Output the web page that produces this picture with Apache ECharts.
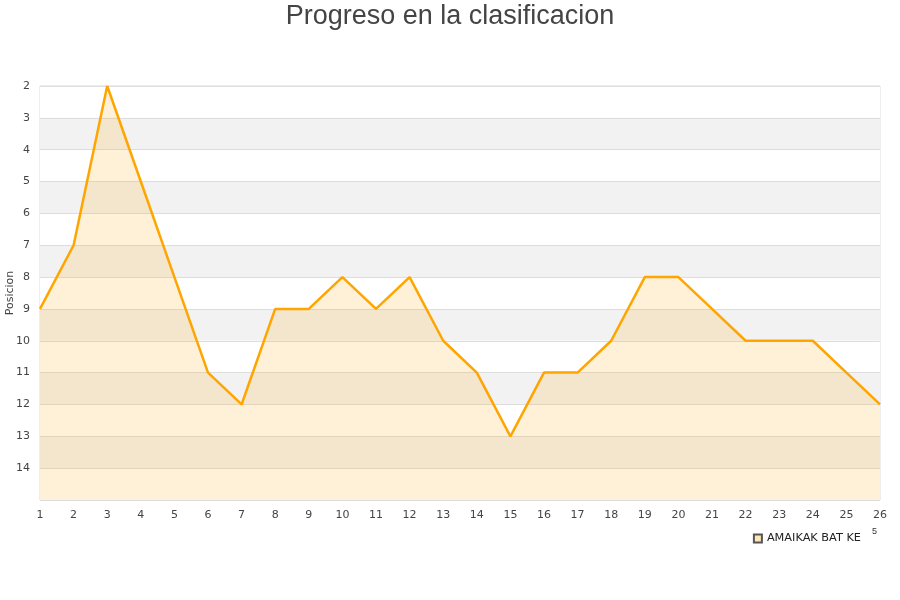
<!DOCTYPE html>
<html><head><meta charset="utf-8">
<script src="https://cdn.jsdelivr.net/npm/echarts@6/dist/echarts.min.js"></script>
<style>html,body{margin:0;padding:0;background:#fff}#c{width:900px;height:600px}</style>
</head><body><div id="c"></div>
<script>
const jornadas = ['1','2','3','4','5','6','7','8','9','10','11','12','13','14','15','16','17','18','19','20','21','22','23','24','25','26'];
const posiciones = [9,7,2,5,8,11,12,9,9,8,9,8,10,11,13,11,11,10,8,8,9,10,10,10,11,12];
const seriesName = 'AMAIKAK BAT KE';
const titleText = 'Progreso en la clasificacion';
const yName = 'Posicion';

const chart = echarts.init(document.getElementById('c'), null, {renderer:'canvas'});
chart.setOption({
  animation:false,
  textStyle:{fontFamily:'"Liberation Sans", Arial, sans-serif'},
  title:{text:titleText,left:'center',top:-2,textStyle:{fontSize:27,fontWeight:'normal',color:'#444',fontFamily:'"Liberation Sans", Arial, sans-serif'}},
  legend:{data:[{name:seriesName,icon:'rect'}],right:34,top:528,itemWidth:8,itemHeight:8,itemGap:10,
    textStyle:{fontSize:11.3,color:'#222',fontFamily:'"DejaVu Sans", sans-serif'}},
  grid:{left:40,right:20,top:86,bottom:100,containLabel:false,outerBoundsMode:'none',show:true,borderColor:'#ddd',borderWidth:1,backgroundColor:'transparent'},
  xAxis:{type:'category',data:jornadas,boundaryGap:false,
    axisLine:{show:false},axisTick:{show:false},
    axisLabel:{color:'#444',fontSize:11,margin:10,fontFamily:'"DejaVu Sans", sans-serif'},
    splitLine:{show:false}},
  yAxis:{type:'value',inverse:true,min:2,max:15,interval:1,
    name:yName,nameLocation:'middle',nameGap:24,nameRotate:90,nameMoveOverlap:false,
    nameTextStyle:{color:'#444',fontSize:11,fontFamily:'"DejaVu Sans", sans-serif'},
    axisLine:{show:false},axisTick:{show:false},
    axisLabel:{color:'#444',fontSize:11,margin:10,fontFamily:'"DejaVu Sans", sans-serif',
      formatter:function(v){return v===15?'':String(v);}},
    splitLine:{show:true,lineStyle:{color:'#ddd',width:1}},
    splitArea:{show:true,areaStyle:{color:['#ffffff','#f2f2f2']}}},
  series:[{name:seriesName,type:'line',data:posiciones,symbol:'none',
    itemStyle:{color:'#FFE6B8',borderColor:'#555',borderWidth:1},
    lineStyle:{color:'#FFA500',width:2.5},
    areaStyle:{color:'rgba(255,165,0,0.22)',origin:'end'}}],
  graphic:[{type:'text',left:872,top:527,style:{text:'5',fontSize:9,fill:'#333'}}]
});
</script></body></html>
